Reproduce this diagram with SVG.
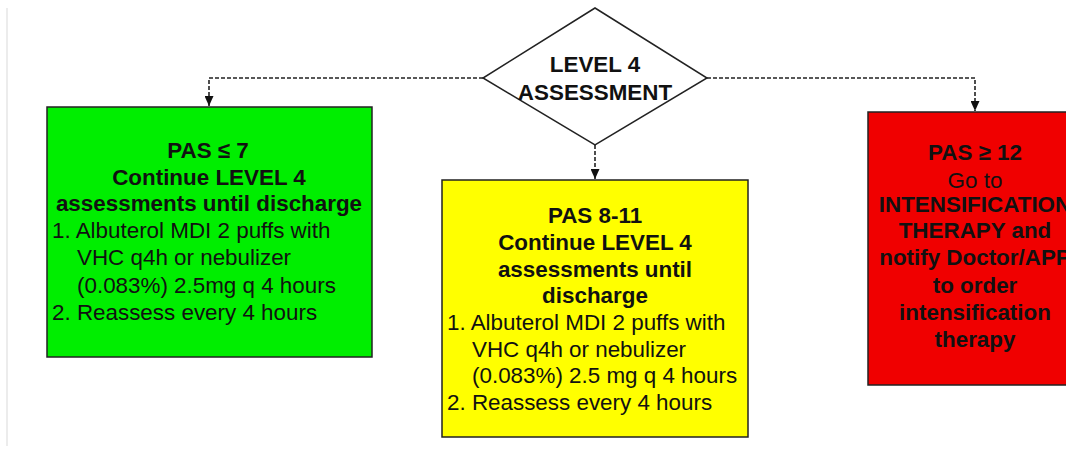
<svg xmlns="http://www.w3.org/2000/svg" width="1066" height="452" viewBox="0 0 1066 452">
<style>
  text { font-family: "Liberation Sans", Arial, sans-serif; font-size: 22.4px; fill: #111; }
  .b { font-weight: bold; }
  .c { text-anchor: middle; }
  .box { stroke: #222; stroke-width: 1.5; }
  .conn { fill: none; stroke: #222; stroke-width: 1.6; stroke-dasharray: 4 2; }
</style>
<defs>
  <marker id="ah" viewBox="0 0 10 10" refX="10" refY="5" markerWidth="10" markerHeight="9" markerUnits="userSpaceOnUse" orient="auto" preserveAspectRatio="none">
    <path d="M0,0 L10,5 L0,10 Z" fill="#111"/>
  </marker>
</defs>
<rect width="1066" height="452" fill="#fff"/>
<line x1="7" y1="8" x2="7" y2="446" stroke="#e6e6e6" stroke-width="1.5"/>

<g id="connectors">
  <path class="conn" d="M483,78 H209 V106" marker-end="url(#ah)"/>
  <path class="conn" d="M707,78 H975 V111" marker-end="url(#ah)"/>
  <path class="conn" d="M595,145 V179" marker-end="url(#ah)"/>
</g>

<g id="level4">
  <polygon points="595,8 707,78 595,145 483,78" fill="#fff" stroke="#222" stroke-width="1.5"/>
  <text class="b c" x="595" y="72">LEVEL 4</text>
  <text class="b c" x="595" y="100">ASSESSMENT</text>
</g>

<g id="green">
  <rect class="box" x="47" y="107" width="325" height="250" fill="#00ee00"/>
  <text class="b c" x="208" y="158">PAS ≤ 7</text>
  <text class="b c" x="209" y="185">Continue LEVEL 4</text>
  <text class="b c" x="209" y="211">assessments until discharge</text>
  <text x="52" y="238">1. Albuterol MDI 2 puffs with</text>
  <text x="77" y="265">VHC q4h or nebulizer</text>
  <text x="77" y="293">(0.083%) 2.5mg q 4 hours</text>
  <text x="52" y="320">2. Reassess every 4 hours</text>
</g>

<g id="yellow">
  <rect class="box" x="442" y="180" width="306" height="257" fill="#ffff00"/>
  <text class="b c" x="595" y="223">PAS 8-11</text>
  <text class="b c" x="595" y="250">Continue LEVEL 4</text>
  <text class="b c" x="595" y="277">assessments until</text>
  <text class="b c" x="595" y="303">discharge</text>
  <text x="447" y="330">1. Albuterol MDI 2 puffs with</text>
  <text x="472" y="357">VHC q4h or nebulizer</text>
  <text x="472" y="383">(0.083%) 2.5 mg q 4 hours</text>
  <text x="447" y="410">2. Reassess every 4 hours</text>
</g>

<g id="red">
  <rect class="box" x="868" y="112" width="214" height="273" fill="#f00000"/>
  <text class="b c" x="975" y="160">PAS ≥ 12</text>
  <text class="c" x="975" y="188">Go to</text>
  <text class="b c" x="975" y="212">INTENSIFICATION</text>
  <text class="b c" x="975" y="238">THERAPY and</text>
  <text class="b c" x="975" y="265">notify Doctor/APP</text>
  <text class="b c" x="975" y="293">to order</text>
  <text class="b c" x="975" y="320">intensification</text>
  <text class="b c" x="975" y="347">therapy</text>
</g>
</svg>
